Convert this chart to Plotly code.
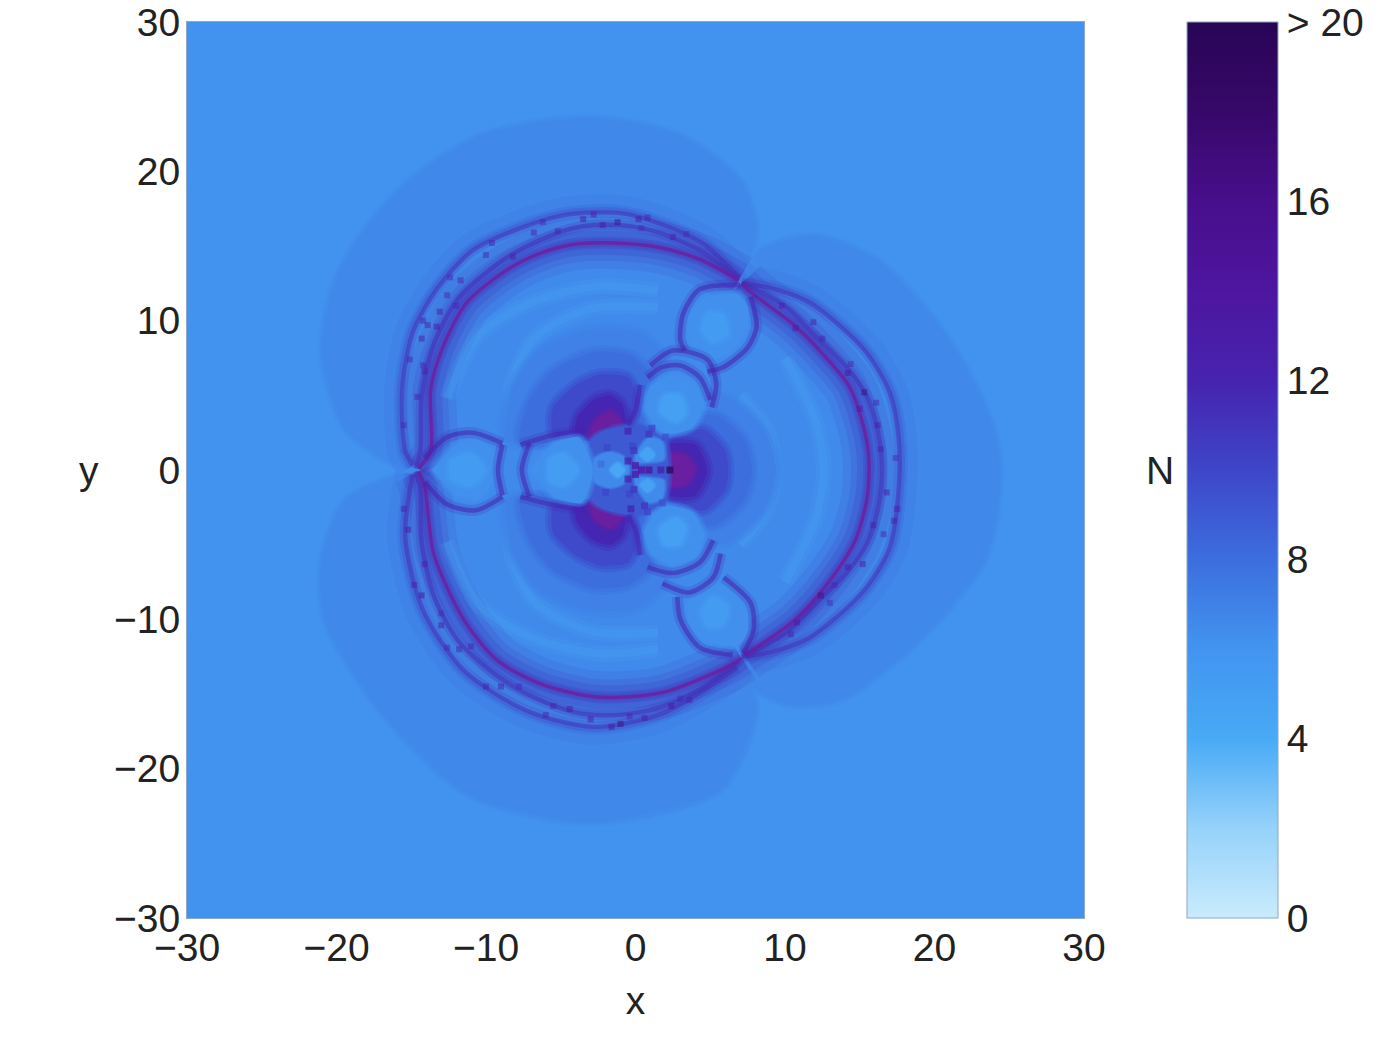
import plotly.graph_objects as go

# Colour ramp for the occupation number N (value, r, g, b)
RAMP_LEVELS = [0, 2, 4, 6, 8, 10, 12, 14, 16, 18, 20]
RAMP_RGB = [(200, 235, 252), (150, 210, 250), (72, 170, 245), (66, 148, 240), (60, 110, 222),
            (62, 70, 200), (70, 35, 175), (78, 22, 160), (72, 14, 140), (55, 8, 105), (40, 5, 85)]

AXIS_TICKS = [-30, -20, -10, 0, 10, 20, 30]
BAR_TICKS = [0, 4, 8, 12, 16, 20]
BAR_LABELS = ["0", "4", "8", "12", "16", "> 20"]
FIELD_LEVEL = 6.05

# Faint outer lobes around the caustic
LOBE_X = [7.1, 8.3, 12.0, 16.4, 21.0, 24.0, 24.4, 23.4, 19.0, 13.7, 10.3, 8.0, 7.1, 8.1, 5.7, -3.0, -11.1, -17.1,
          -20.8, -21.0, -19.4, -16.4, -14.8, -16.4, -19.4, -21.0, -19.8, -15.8, -10.4, -3.0, 3.0, 7.0, 8.1, 7.1]
LOBE_Y = [12.5, 14.7, 15.7, 13.9, 8.7, 2.7, -0.7, -6.0, -11.4, -15.4, -15.7, -14.7, -12.5, -16.1, -21.4, -23.6,
          -21.8, -16.1, -10.0, -6.0, -2.0, -0.5, 0, 0.5, 2.7, 8.0, 13.4, 18.8, 22.4, 23.6, 22.4, 19.4, 16.1, 12.5]

# Three strands of each large arc
UL_INNER_X = [-14.5, -13.7, -13.7, -12.9, -11.3, -8.6, -6.4, -4.2, -1.5, 1.6, 4.3, 6.9]
UL_INNER_Y = [0.1, 1.3, 5.4, 8.2, 11.2, 13.4, 14.5, 15.1, 15.2, 14.9, 14.1, 12.7]
UL_MID_X = [-14.7, -14.4, -14.3, -13.5, -11.9, -9.1, -6.4, -3.7, -1.0, 1.6, 4.3, 6.9]
UL_MID_Y = [0.1, 1.3, 4.9, 8.4, 11.4, 13.9, 15.4, 16.3, 16.4, 15.9, 14.7, 12.8]
UL_OUTER_X = [-14.9, -15.4, -15.6, -14.9, -13.3, -10.9, -7.7, -4.6, -1.0, 1.6, 4.6, 6.9]
UL_OUTER_Y = [0.3, 1.3, 5.4, 9.2, 12.1, 14.7, 16.2, 17.1, 17.2, 16.5, 15.1, 12.9]

R_INNER_X = [7.1, 7.7, 10.5, 12.5, 14.3, 15.2, 15.6, 15.5, 14.7, 13.0, 10.7, 7.3]
R_INNER_Y = [12.5, 11.9, 9.8, 7.8, 5.6, 3.1, 0.9, -1.8, -4.7, -7.4, -10.0, -12.4]
R_MID_X = [7.1, 8.0, 10.1, 12.1, 14.1, 15.5, 16.2, 16.5, 16.2, 15.5, 14.1, 12.1, 10.1, 8.0, 7.1]
R_MID_Y = [12.5, 12.1, 10.9, 8.9, 6.9, 4.9, 2.7, 0, -2.7, -4.9, -6.9, -8.9, -10.9, -12.1, -12.5]
R_OUTER_X = [7.1, 9.0, 11.5, 13.5, 15.5, 17.0, 17.6, 17.6, 17.0, 15.5, 13.5, 11.5, 9.0, 7.1]
R_OUTER_Y = [12.5, 12.2, 11.3, 9.8, 7.8, 5.2, 2.2, -1.3, -5.2, -7.8, -9.8, -11.3, -12.2, -12.5]

LL_INNER_X = [-14.5, -14.1, -13.5, -11.5, -9.3, -6.4, -2.6, 1.8, 6.1, 7.1]
LL_INNER_Y = [-0.1, -1.1, -5.6, -10.0, -12.7, -14.3, -15.2, -14.9, -13.2, -12.6]
LL_MID_X = [-14.7, -14.4, -14.3, -13.5, -11.9, -9.1, -6.4, -3.7, -1.0, 1.6, 4.3, 6.9]
LL_MID_Y = [-0.1, -1.3, -4.9, -8.4, -11.4, -13.9, -15.4, -16.3, -16.4, -15.9, -14.7, -12.8]
LL_OUTER_X = [-14.9, -15.4, -14.2, -11.5, -7.3, -2.8, 1.8, 6.8]
LL_OUTER_Y = [-0.3, -4.5, -9.4, -13.4, -16.1, -17.2, -16.3, -13.2]

# Petals along the three arms
UR_P1_LEFT_X = [7.0, 4.3, 3.2, 3.0, 3.3]
UR_P1_LEFT_Y = [12.4, 12.1, 10.5, 8.7, 8.0]
UR_P1_RIGHT_X = [7.7, 8.1, 7.5, 5.9, 4.8]
UR_P1_RIGHT_Y = [11.6, 9.6, 8.2, 6.9, 6.6]
UR_P2_IN_X = [0.8, 1.8, 3.0, 4.3, 5.0]
UR_P2_IN_Y = [6.2, 6.9, 7.0, 6.2, 4.7]
UR_P2_OUT_X = [1.0, 2.5, 4.8, 5.4, 5.1]
UR_P2_OUT_Y = [7.0, 8.0, 7.4, 5.8, 4.2]
UR_P2_SIDE_X = [0.3, 0.0, -0.5]
UR_P2_SIDE_Y = [5.7, 4.0, 3.0]

LR_P1_LEFT_X = [2.8, 3.0, 4.3, 6.5]
LR_P1_LEFT_Y = [-8.5, -10.0, -11.9, -12.4]
LR_P1_RIGHT_X = [5.9, 7.7, 7.9, 7.2]
LR_P1_RIGHT_Y = [-7.2, -8.9, -10.7, -12.3]
LR_P2_IN_X = [0.8, 2.5, 4.3, 5.2]
LR_P2_IN_Y = [-6.5, -6.9, -6.2, -4.7]
LR_P2_OUT_X = [1.8, 3.6, 5.2, 5.7]
LR_P2_OUT_Y = [-7.6, -8.2, -7.2, -5.6]
LR_P2_SIDE_X = [0.3, 0.0, -0.5]
LR_P2_SIDE_Y = [-5.7, -4.0, -3.0]

L_P1_TOP_X = [-14.1, -12.6, -10.9, -8.9]
L_P1_TOP_Y = [0.8, 2.2, 2.5, 1.8]
L_P1_BOT_X = [-14.1, -12.6, -10.7, -8.9]
L_P1_BOT_Y = [-0.8, -2.3, -2.7, -1.8]
L_GAP_A_X = [-8.9, -9.2, -8.9]
L_GAP_A_Y = [1.7, 0, -1.7]
L_GAP_B_X = [-7.1, -7.6, -7.1]
L_GAP_B_Y = [1.8, 0, -1.8]
L_P2_TOP_X = [-7.7, -5.7, -3.4]
L_P2_TOP_Y = [1.7, 2.3, 2.7]
L_P2_BOT_X = [-7.7, -5.7, -3.4]
L_P2_BOT_Y = [-1.8, -2.3, -2.7]

# Glow around the three dark spots next to the centre: (level, x, y), outermost first
GLOW_BANDS = [
    (7.0, [-8.6, -8.2, -6.4, -3.0, 0.2, 2.0, 0.3, -3.0], [2.0, 5.6, 8.0, 9.4, 9.2, 7.4, 2.7, 2.0]),
    (8.0, [-7.7, -7.1, -5.5, -2.8, -0.4, 1.0, 0.3, -3.0], [2.0, 4.7, 6.7, 7.9, 7.7, 6.4, 2.7, 2.0]),
    (9.8, [-5.5, -5.5, -4.0, -2.4, -0.5, 0.1, -0.7, -3.0], [2.5, 4.2, 5.7, 6.4, 6.2, 4.7, 2.3, 2.2]),
    (11.8, [-4.0, -3.9, -2.8, -1.7, -0.9, -0.7], [2.5, 3.5, 4.7, 5.0, 4.4, 2.7]),
    (13.5, [-3.0, -2.7, -1.7, -1.0, -0.9], [2.2, 3.3, 3.9, 3.3, 2.0]),
    (17.0, [-2.4, -1.8, -1.2, -1.0, -1.7], [2.0, 2.7, 2.5, 1.5, 1.3]),
    (7.0, [-8.6, -8.2, -6.4, -3.0, 0.2, 2.0, 0.3, -3.0], [-2.0, -5.6, -8.0, -9.4, -9.2, -7.4, -2.7, -2.0]),
    (8.0, [-7.7, -7.1, -5.5, -2.8, -0.4, 1.0, 0.3, -3.0], [-2.0, -4.7, -6.7, -7.9, -7.7, -6.4, -2.7, -2.0]),
    (9.8, [-5.5, -5.5, -4.0, -2.4, -0.5, 0.1, -0.7, -3.0], [-2.5, -4.2, -5.7, -6.4, -6.2, -4.7, -2.3, -2.2]),
    (11.8, [-4.0, -3.9, -2.8, -1.7, -0.9, -0.7], [-2.5, -3.5, -4.7, -5.0, -4.4, -2.7]),
    (13.5, [-3.0, -2.7, -1.7, -1.0, -0.9], [-2.2, -3.3, -3.9, -3.3, -2.0]),
    (17.0, [-2.4, -1.8, -1.2, -1.0, -1.7], [-2.0, -2.7, -2.5, -1.5, -1.3]),
    (7.0, [2.6, 6.0, 8.6, 9.4, 8.6, 6.0, 2.6, 1.8], [4.0, 4.9, 2.7, 0, -2.7, -4.9, -4.0, 0]),
    (8.0, [2.6, 5.3, 7.3, 7.8, 7.3, 5.3, 2.6, 1.8], [3.0, 3.7, 2.0, 0, -2.0, -3.7, -3.0, 0]),
    (9.8, [2.6, 4.6, 6.0, 6.2, 6.0, 4.6, 2.6, 1.8], [2.3, 2.7, 1.3, 0, -1.3, -2.7, -2.3, 0]),
    (11.8, [2.3, 4.0, 4.8, 4.0, 2.3, 1.7], [1.7, 1.7, 0, -1.7, -1.7, 0]),
    (13.5, [2.2, 3.3, 4.0, 3.3, 2.2], [1.0, 1.0, 0, -1.0, -1.0]),
]

# Petal bodies and their brighter cores: (level, x, y)
PETAL_FILLS = [
    (6.2, [-13.6, -12.0, -10.5, -9.3, -9.6, -10.5, -12.0, -13.6], [0.0, 1.7, 2.0, 1.0, -0.8, -2.0, -1.7, 0.0]),
    (6.2, [-7.0, -5.5, -3.8, -2.8, -3.6, -5.5, -7.0], [0.0, 1.8, 2.2, 0.0, -2.2, -1.8, 0.0]),
    (6.2, [6.8, 4.6, 3.6, 3.5, 4.7, 6.2, 7.5, 7.5], [11.8, 11.5, 10.4, 8.8, 7.4, 7.8, 9.5, 11.0]),
    (6.2, [1.0, 2.5, 4.0, 4.6, 3.8, 2.0, 0.6], [5.6, 6.4, 5.8, 4.3, 2.8, 2.4, 4.0]),
    (6.2, [6.8, 4.6, 3.6, 3.5, 4.7, 6.2, 7.5, 7.5], [-11.8, -11.5, -10.4, -8.8, -7.4, -7.8, -9.5, -11.0]),
    (6.2, [1.0, 2.5, 4.0, 4.6, 3.8, 2.0, 0.6], [-5.6, -6.4, -5.8, -4.3, -2.8, -2.4, -4.0]),
    (5.4, [-12.4, -11.0, -10.0, -11.0, -12.4], [0.6, 1.1, 0.0, -1.1, -0.6]),
    (5.2, [-5.8, -4.8, -3.8, -4.8, -5.8], [0.7, 1.1, 0.0, -1.1, -0.7]),
    (5.3, [4.8, 5.9, 6.2, 5.2, 4.4], [10.5, 10.4, 9.1, 8.5, 9.4]),
    (4.9, [1.9, 3.0, 3.4, 2.7, 1.6], [5.0, 5.0, 3.8, 3.2, 3.9]),
    (5.3, [4.8, 5.9, 6.2, 5.2, 4.4], [-10.5, -10.4, -9.1, -8.5, -9.4]),
    (4.9, [1.9, 3.0, 3.4, 2.7, 1.6], [-5.0, -5.0, -3.8, -3.2, -3.9]),
]

# Central knot and the light cells inside it: (level, x, y)
KNOT = (9.0, [-3.0, -2.0, 0.3, 2.0, 2.0, 0.3, -2.0, -3.0], [2.0, 2.7, 3.0, 2.0, -2.0, -3.0, -2.7, -2.0])
KNOT_CELLS = [
    (6.6, [-2.7, -1.7, -0.8, -0.4, -0.8, -1.7, -2.7], [0.8, 1.2, 0.9, 0.0, -0.9, -1.2, -0.8]),
    (6.5, [0.0, 0.9, 1.8, 1.9, 0.9, 0.0], [1.0, 2.2, 1.9, 0.7, 0.5, 0.5]),
    (6.5, [0.0, 0.9, 1.8, 1.9, 0.9, 0.0], [-1.0, -2.2, -1.9, -0.7, -0.5, -0.5]),
    (4.3, [-1.7, -1.2, -0.7, -1.2], [0.0, 0.5, 0.0, -0.5]),
    (4.6, [0.3, 0.8, 1.3, 0.8], [1.0, 1.5, 1.0, 0.6]),
    (4.6, [0.3, 0.8, 1.3, 0.8], [-1.0, -1.5, -1.0, -0.6]),
]

# Lighter creases running through the disc: (x, y)
CREASES = [
    ([-12.6, -10.5, -7.0, -2.5, 1.5], [4.8, 9.0, 11.2, 12.3, 12.0]),
    ([-8.2, -8.3, -6.8, -3.0, 1.5], [2.8, 5.6, 8.8, 10.8, 10.9]),
    ([-12.6, -10.5, -7.0, -2.5, 1.5], [-4.8, -9.0, -11.2, -12.3, -12.0]),
    ([-8.2, -8.3, -6.8, -3.0, 1.5], [-2.8, -5.6, -8.8, -10.8, -10.9]),
    ([7.0, 8.8, 9.3, 8.8, 7.0], [5.0, 2.7, 0, -2.7, -5.0]),
    ([10.0, 12.0, 12.6, 12.0, 10.0], [7.5, 3.4, 0, -3.4, -7.5]),
]

# Small cells around the centre and mottling along the arcs
CELL_X = [0.0, 0.0, 0.4, 0.9, 1.7, 2.3, -0.2, -1.9, -2.3, -0.4, 0.9, 2.0, 0.6, 1.8, -2.0, -0.5, -0.3, 1.1, 0.8,
          -0.5, -0.5, -0.1, -0.1]
CELL_Y = [0.3, -0.3, 0.0, 0.0, 0.0, 0.0, 1.6, 1.5, 0.4, -1.6, 2.4, 2.2, -2.4, -2.2, -1.5, 2.6, -2.6, 2.8, -2.8,
          0.6, -0.6, 1.3, -1.3]
CELL_N = [13.0, 13.0, 14.0, 15.0, 13.0, 19.5, 10.0, 10.0, 8.0, 10.0, 11.0, 9.5, 11.0, 9.5, 10.0, 12.0, 12.0, 10.0,
          10.0, 12.0, 12.0, 11.0, 11.0]

SPECKLE_X = [-14.3, -14.1, -14.6, -13.9, -13.1, -12.6, -11.7, -10.0, -6.8, -3.5, -1.2, 0.2, 2.5, 10.7, 12.5, 14.2,
             15.3, 16.2, 16.8, 17.3, 14.2, 12.4, 10.8, -15.2, -14.3, -13.0, -11.8, -9.0, -5.5, -3.0, -1.0, 0.6, 2.4,
             -15.5, -15.1, -14.2, -12.4, -9.6, -6.2, -2.8, 0.8, 3.4, -14.2, -13.3, -12.0, -8.2, -5.2, -2.2, 0.4,
             9.8, 11.9, 14.4, 16.1, 17.4, 17.5, 16.6, 15.2, 13.0, 10.4, -15.5, -14.8, -12.6, -10.0, -6.0, -1.6, 3.6,
             -14.1, -13.0, -11.0, -7.8, -4.4, -0.4, 3.0, 15.0, 16.4, 15.9, 13.3]
SPECKLE_Y = [8.8, 6.6, 4.9, 9.7, 10.6, 11.7, 12.7, 14.4, 15.9, 16.8, 16.6, 16.8, 15.6, 9.5, 8.8, 6.5, 5.2, 3.0,
             -1.5, -3.4, -6.5, -8.4, -10.2, -4.0, -8.4, -10.4, -12.0, -14.5, -15.8, -16.7, -17.0, -16.6, -15.8,
             3.0, 7.4, 10.0, 12.9, 15.2, 16.6, 17.1, 16.9, 15.8, 7.0, 9.6, 11.0, 14.3, 16.0, 16.4, 16.2,
             11.0, 9.9, 7.1, 4.5, 0.8, -2.6, -4.3, -6.3, -8.9, -11.0, -2.6, -7.7, -11.9, -14.5, -16.4, -17.2, -15.4,
             -6.3, -9.6, -11.8, -14.5, -16.0, -16.5, -15.3, 4.1, 1.4, -3.7, -7.7]
SPECKLE_N = [15, 14, 13, 14, 15, 13, 14, 13, 14, 15, 17, 15, 13, 14, 13, 15, 18, 14, 15, 14, 14, 17, 14, 15, 16,
             15, 13, 14, 13, 15, 18, 14, 15, 12, 13, 14, 12, 13, 12, 14, 13, 12, 13, 15, 12, 14, 13, 15, 12,
             13, 14, 12, 13, 12, 14, 13, 15, 12, 13, 13, 14, 12, 14, 13, 15, 13, 14, 12, 13, 12, 15, 13, 12, 14, 13,
             14, 12]

FONT = "Liberation Sans, Arial, sans-serif"
TEXT = "#222222"
ARC_TINT = (106, 30, 160)


def shade(level, alpha=1.0):
    """Colour of a level on the shared N ramp."""
    for i in range(len(RAMP_LEVELS) - 1):
        lo, hi = RAMP_LEVELS[i], RAMP_LEVELS[i + 1]
        if level <= hi:
            t = (level - lo) / (hi - lo)
            a, b = RAMP_RGB[i], RAMP_RGB[i + 1]
            rgb = [round(a[k] + t * (b[k] - a[k])) for k in range(3)]
            return f"rgba({rgb[0]},{rgb[1]},{rgb[2]},{alpha})"
    return f"rgba(40,5,85,{alpha})"


fig = go.Figure()
fig.add_trace(go.Heatmap(x=[-30, 30], y=[-30, 30], z=[[FIELD_LEVEL, FIELD_LEVEL], [FIELD_LEVEL, FIELD_LEVEL]],
                         coloraxis="coloraxis", hoverinfo="skip"))


def stroke(xs, ys, color, width):
    fig.add_trace(go.Scatter(x=xs, y=ys, mode="lines", line=dict(width=width, color=color, shape="spline", smoothing=0.8),
                             hoverinfo="skip", showlegend=False))


def region(level, xs, ys, soft=10, fill=None):
    # A translucent outline under the fill keeps the band edge from looking cut out
    base = fill or (lambda a: shade(level, a))
    loop_x, loop_y = list(xs) + [xs[0]], list(ys) + [ys[0]]
    if soft:
        stroke(loop_x, loop_y, base(0.3), soft)
        stroke(loop_x, loop_y, base(0.45), soft / 2)
    fig.add_trace(go.Scatter(x=loop_x, y=loop_y, mode="lines", fill="toself", fillcolor=base(1.0),
                             line=dict(width=0, color=base(1.0), shape="spline", smoothing=0.6),
                             hoverinfo="skip", showlegend=False))


def tinted(alpha):
    return f"rgba({ARC_TINT[0]},{ARC_TINT[1]},{ARC_TINT[2]},{alpha})"


def strand(xs, ys, level, width=3.0, color=None, core=0.8):
    base = color or (lambda a: shade(level, a))
    stroke(xs, ys, base(0.2), width * 2.4)
    stroke(xs, ys, base(core), width)


region(6.6, LOBE_X, LOBE_Y, soft=8)

# Disc enclosed by the inner strands
disc_x = UL_INNER_X + R_INNER_X + LL_INNER_X[::-1]
disc_y = UL_INNER_Y + R_INNER_Y + LL_INNER_Y[::-1]
rim_x = UL_OUTER_X + R_OUTER_X + LL_OUTER_X[::-1]
rim_y = UL_OUTER_Y + R_OUTER_Y + LL_OUTER_Y[::-1]
stroke(rim_x, rim_y, shade(8.0, 0.22), 36)
stroke(rim_x, rim_y, shade(8.5, 0.3), 16)
region(6.6, rim_x, rim_y, soft=0)
region(6.5, disc_x, disc_y, soft=0)

# Inner edge of the disc darkens towards the strands
for width, alpha in ((52, 0.14), (36, 0.18), (24, 0.24), (12, 0.3)):
    for xs, ys in ((UL_INNER_X, UL_INNER_Y), (R_INNER_X, R_INNER_Y), (LL_INNER_X, LL_INNER_Y)):
        stroke(xs, ys, shade(10.5, alpha), width)

for xs, ys in CREASES:
    stroke(xs, ys, shade(4.8, 0.22), 16)
    stroke(xs, ys, shade(4.8, 0.3), 8)

for level, xs, ys in GLOW_BANDS:
    if level > 13:
        region(level, xs, ys, soft=8, fill=tinted if level < 15 else (lambda a: f"rgba(92,12,122,{a})"))
    else:
        region(level, xs, ys, soft=12)

region(KNOT[0], KNOT[1], KNOT[2], soft=6)
for level, xs, ys in PETAL_FILLS:
    region(level, xs, ys, soft=8)
for level, xs, ys in KNOT_CELLS:
    region(level, xs, ys, soft=4)

for xs, ys in [(UL_OUTER_X, UL_OUTER_Y), (UL_MID_X, UL_MID_Y), (R_OUTER_X, R_OUTER_Y), (R_MID_X, R_MID_Y),
               (LL_OUTER_X, LL_OUTER_Y), (LL_MID_X, LL_MID_Y)]:
    strand(xs, ys, 11.5, 4.4, core=0.5)
for xs, ys in [(UL_INNER_X, UL_INNER_Y), (R_INNER_X, R_INNER_Y), (LL_INNER_X, LL_INNER_Y)]:
    strand(xs, ys, 14.0, 3.4, color=tinted)

for xs, ys in [(UR_P1_LEFT_X, UR_P1_LEFT_Y), (UR_P1_RIGHT_X, UR_P1_RIGHT_Y), (UR_P2_IN_X, UR_P2_IN_Y),
               (UR_P2_OUT_X, UR_P2_OUT_Y), (UR_P2_SIDE_X, UR_P2_SIDE_Y), (LR_P1_LEFT_X, LR_P1_LEFT_Y),
               (LR_P1_RIGHT_X, LR_P1_RIGHT_Y), (LR_P2_IN_X, LR_P2_IN_Y), (LR_P2_OUT_X, LR_P2_OUT_Y),
               (LR_P2_SIDE_X, LR_P2_SIDE_Y), (L_P1_TOP_X, L_P1_TOP_Y), (L_P1_BOT_X, L_P1_BOT_Y),
               (L_GAP_A_X, L_GAP_A_Y), (L_GAP_B_X, L_GAP_B_Y), (L_P2_TOP_X, L_P2_TOP_Y), (L_P2_BOT_X, L_P2_BOT_Y)]:
    strand(xs, ys, 12.0, 4.6, core=0.55)

fig.add_trace(go.Scatter(x=SPECKLE_X, y=SPECKLE_Y, mode="markers", hoverinfo="skip", showlegend=False,
                         marker=dict(symbol="square", size=6, opacity=0.45, color=SPECKLE_N, coloraxis="coloraxis",
                                     line_width=0)))
fig.add_trace(go.Scatter(x=CELL_X, y=CELL_Y, mode="markers", hoverinfo="skip", showlegend=False,
                         marker=dict(symbol="square", size=7, opacity=0.75, color=CELL_N, coloraxis="coloraxis",
                                     line_width=0)))

axis_style = dict(range=[-30, 30], tickvals=AXIS_TICKS, ticks="", showgrid=False, zeroline=False, showline=True,
                  linecolor="#8FA6C4", linewidth=1, mirror=True, tickfont=dict(family=FONT, size=39, color=TEXT))

plot_w, plot_h = 1392 - 187 - 308, 1043 - 22 - 125

fig.update_layout(
    width=1392, height=1043, margin=dict(l=187, r=308, t=22, b=125, pad=0, autoexpand=False), autosize=False,
    paper_bgcolor="white", plot_bgcolor="white", showlegend=False,
    xaxis=dict(axis_style, ticklabelstandoff=-5,
               title=dict(text="x", font=dict(family=FONT, size=39, color=TEXT), standoff=18)),
    yaxis=dict(axis_style, ticklabelstandoff=-2),
    coloraxis=dict(
        cmin=0, cmax=20,
        colorscale=[[lv / 20, f"rgb{rgb}"] for lv, rgb in zip(RAMP_LEVELS, RAMP_RGB)],
        colorbar=dict(
            x=(1187 - 187) / plot_w, xanchor="left", xpad=0, y=0.5, yanchor="middle", ypad=0, len=1, lenmode="fraction",
            thickness=91, thicknessmode="pixels", outlinecolor="#8FA6C4", outlinewidth=1, ticks="",
            tickvals=BAR_TICKS, ticktext=BAR_LABELS, tickfont=dict(family=FONT, size=39, color=TEXT),
        ),
    ),
    annotations=[
        dict(text="y", x=(89 - 187) / plot_w, y=0.5, xref="paper", yref="paper", xanchor="center", yanchor="middle",
             showarrow=False, font=dict(family=FONT, size=39, color=TEXT)),
        dict(text="N", x=(1160 - 187) / plot_w, y=0.5, xref="paper", yref="paper", xanchor="center", yanchor="middle",
             showarrow=False, font=dict(family=FONT, size=39, color=TEXT)),
    ],
)

fig.write_html("out.html")
